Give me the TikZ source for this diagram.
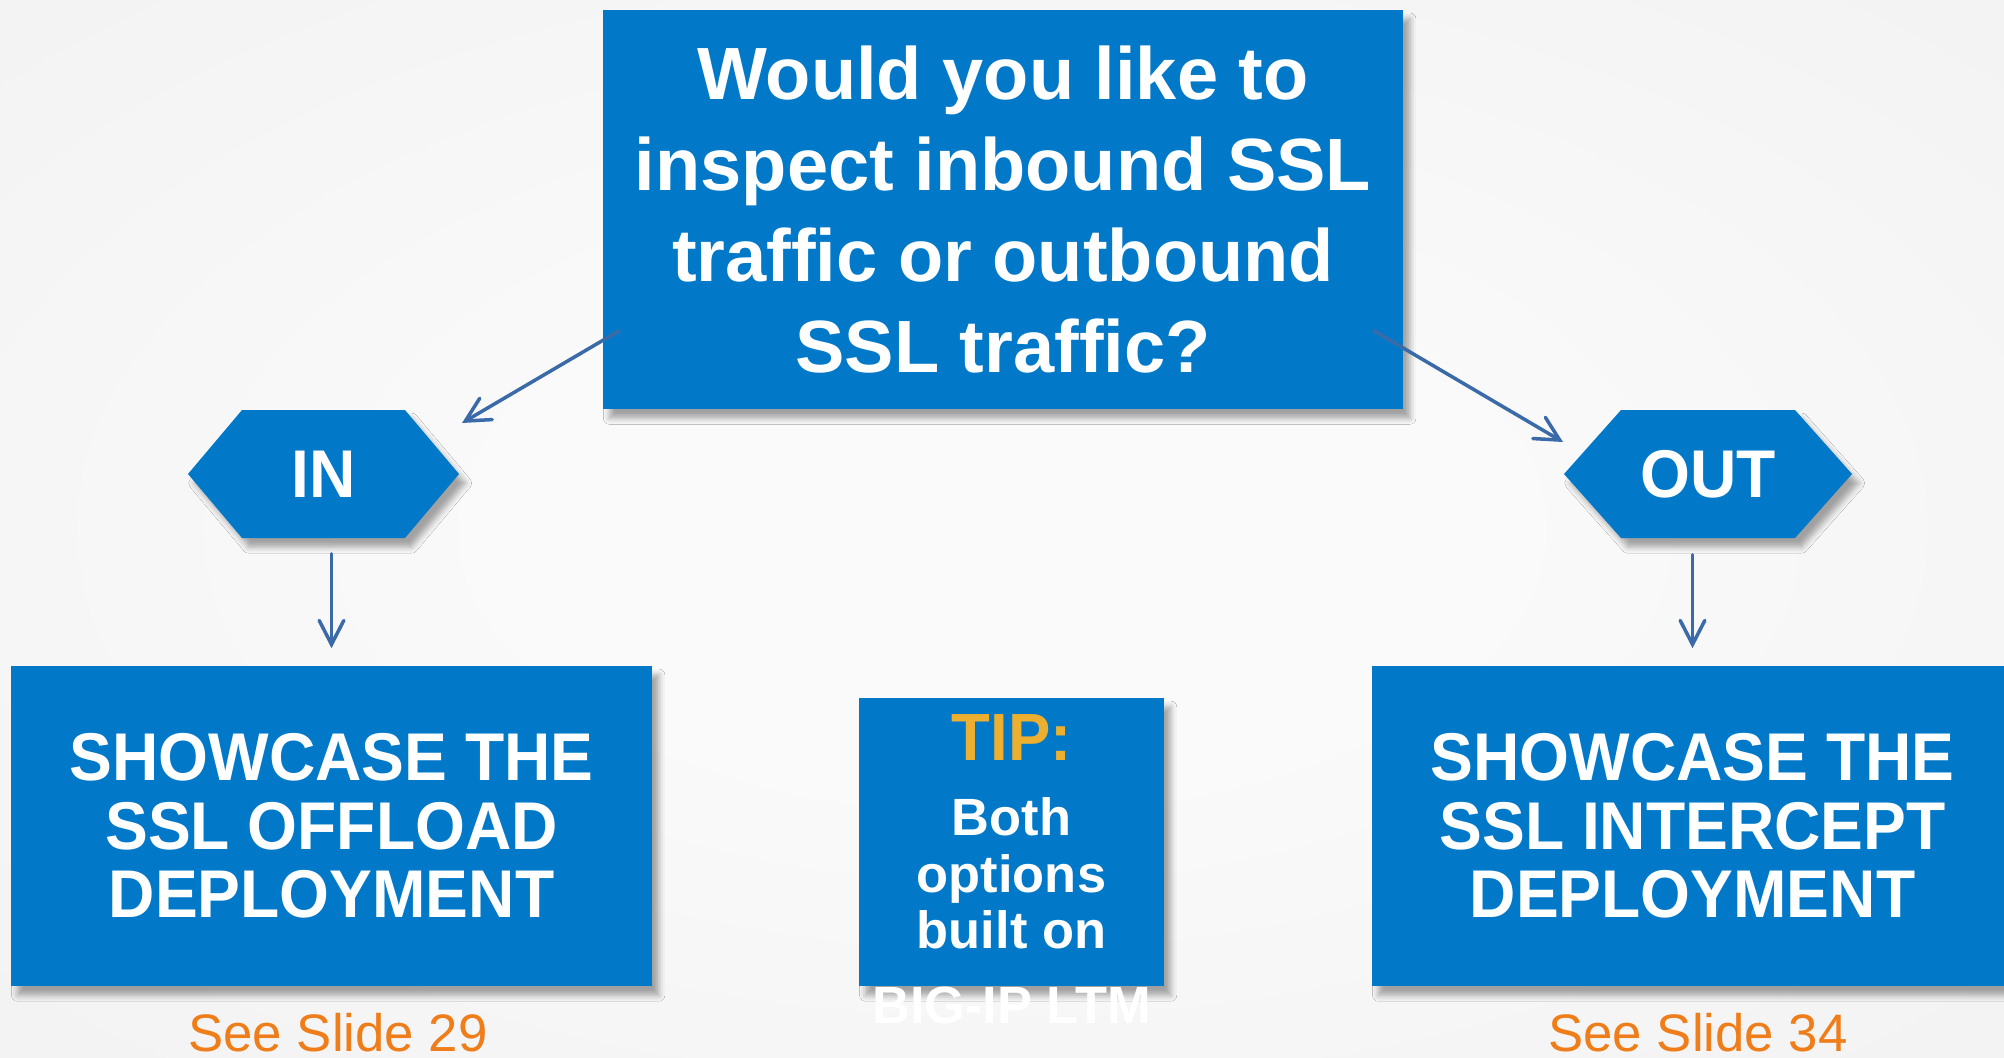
\documentclass[tikz,border=0pt]{standalone}
\usepackage{fontspec}
\setmainfont{Liberation Sans}
\newfontfamily\narrowsans[FakeStretch=0.95]{Liberation Sans}
\usetikzlibrary{arrows.meta,calc,shadows.blur}

\definecolor{slideblue}{HTML}{0279C8}
\definecolor{linkblue}{HTML}{3A6BA8}
\definecolor{slideorange}{HTML}{EE7D1A}
\definecolor{tipgold}{HTML}{EDAF30}
\definecolor{bgin}{HTML}{FAFAFA}
\definecolor{bgmid}{HTML}{EEEEEE}
\definecolor{bgout}{HTML}{E8E8E8}

% soft light glow behind the slide content
\pgfdeclareradialshading{slideglow}{\pgfpoint{0bp}{0bp}}{%
  color(0bp)=(bgin); color(12bp)=(bgin); color(50bp)=(bgmid); color(72bp)=(bgout)}

\tikzset{
  softshadow/.style={blur shadow={shadow xshift=1.9pt, shadow yshift=-2.6pt,
      shadow blur radius=1.7pt, shadow opacity=35}},
  box/.style={fill=slideblue, text=white, align=center, inner sep=0pt, softshadow},
  hexbody/.style={fill=slideblue, softshadow},
  hexlabel/.style={text=white, inner sep=0pt,
      font=\narrowsans\bfseries\fontsize{19.2}{20}\selectfont},
  conn/.style={draw=linkblue, line width=1pt, line cap=round,
      -{Straight Barb[length=6.8pt,width=7pt,line cap=round]}},
  seeslide/.style={anchor=base, text=slideorange, inner sep=0pt,
      font=\fontsize{15}{18}\selectfont},
}

% flat-topped hexagon: centre, half width, chamfer depth, half height (in px)
\newcommand\drawhexagon[4]{%
  \fill[hexbody] ($(#1)+(-#2,0)$) -- ($(#1)+(-#2+#3,-#4)$) -- ($(#1)+(#2-#3,-#4)$)
    -- ($(#1)+(#2,0)$) -- ($(#1)+(#2-#3,#4)$) -- ($(#1)+(-#2+#3,#4)$) -- cycle;}

\begin{document}
\begin{tikzpicture}[x=0.01cm, y=-0.01cm]
  \useasboundingbox (0,0) rectangle (2004,1057);
  \shade[shading=slideglow] (0,0) rectangle (2004,1057);

  % question
  \node[box, minimum width=8cm, minimum height=3.99cm,
        font=\bfseries\fontsize{21.05}{25.8}\selectfont]
    (q) at (1003,209.5) {Would you like to\\inspect inbound SSL\\traffic or outbound\\SSL traffic?};

  % the two answers
  \coordinate (inC) at (323.5,474);
  \drawhexagon{inC}{135.5}{54}{64}
  \node[hexlabel, minimum width=2.71cm, minimum height=1.28cm] (in) at (inC) {IN};

  \coordinate (outC) at (1708,474);
  \drawhexagon{outC}{144}{57}{64}
  \node[hexlabel, minimum width=2.88cm, minimum height=1.28cm] (out) at (outC) {OUT};

  % deployments
  \node[box, minimum width=6.41cm, minimum height=3.2cm,
        font=\narrowsans\bfseries\fontsize{19.2}{19.5}\selectfont]
    (off) at (331.5,826) {SHOWCASE THE\\SSL OFFLOAD\\DEPLOYMENT};
  \node[box, minimum width=6.41cm, minimum height=3.2cm,
        font=\narrowsans\bfseries\fontsize{19.2}{19.5}\selectfont]
    (icp) at (1692.5,826) {SHOWCASE THE\\SSL INTERCEPT\\DEPLOYMENT};

  \node[seeslide] (see29) at (338,1051) {See Slide 29};
  \node[seeslide] (see34) at (1698,1051) {See Slide 34};

  % tip
  \node[box, minimum width=3.05cm, minimum height=2.88cm] (tip) at (1011.5,842) {};
  \node[anchor=base, text=tipgold, inner sep=0pt,
        font=\narrowsans\bfseries\fontsize{19}{20}\selectfont]
    (tiptitle) at (1011.5,760) {TIP:};
  \node[anchor=north, align=center, text=white, inner sep=0pt,
        font=\bfseries\fontsize{14.9}{16.1}\selectfont]
    (tipbody) at (1011.5,797) {Both\\options\\built on};
  \node[anchor=base, text=white, inner sep=0pt,
        font=\bfseries\fontsize{14.9}{16}\selectfont]
    (tipfoot) at (1011.5,1023) {BIG-IP LTM};

  % connectors
  \draw[conn] ($(q.south west)+(17,-79)$) -- ($(in)+(138.5,-51)$);
  \draw[conn] ($(q.south east)+(-30,-79)$) -- ($(out)+(-145,-32)$);
  \draw[conn] ($(in.south -| off.north)+(0,15)$) -- ($(off.north)+(0,-17)$);
  \draw[conn] ($(out.south -| icp.north)+(0,16)$) -- ($(icp.north)+(0,-17)$);
\end{tikzpicture}
\end{document}
